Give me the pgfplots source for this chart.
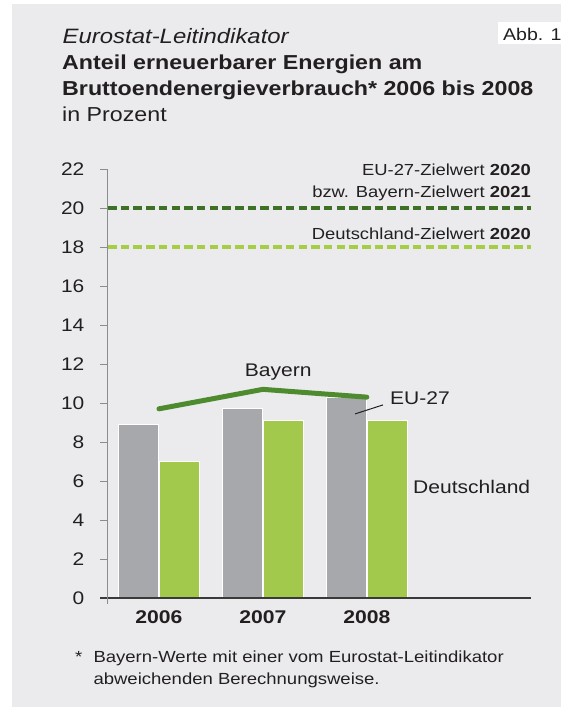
\documentclass[border=0pt]{standalone}
\usepackage{pgfplots}
\pgfplotsset{compat=1.18}
\usepackage{fontspec}
\setmainfont[FakeStretch=1.15]{Liberation Sans}
\definecolor{panelbg}{HTML}{EBEBED}
\definecolor{barGray}{HTML}{A7A8AB}
\definecolor{barGreen}{HTML}{A3C94C}
\definecolor{bayern}{HTML}{4E8B2E}
\definecolor{darkDash}{HTML}{3E7126}
\definecolor{lightDash}{HTML}{A5CD45}
\definecolor{txt}{HTML}{231F20}
\definecolor{yaxis}{HTML}{8C8C8C}
\definecolor{xaxis}{HTML}{3A3A3A}
\begin{document}
\begin{tikzpicture}[x=1pt,y=1pt]
\path[use as bounding box] (0,0) rectangle (561,707);
\fill[white] (0,0) rectangle (561,707);
\fill[panelbg] (12,0) rectangle (561,703);
\fill[white] (498,663) rectangle (561,685);
\node[anchor=base west, inner sep=0pt, text=txt, font=\fontsize{17}{20}\selectfont] at (503,666.3) {Abb. 1};
\node[anchor=base west, inner sep=0pt, text=txt, font=\fontsize{20.8}{24}\selectfont\itshape] at (62.5,663) {Eurostat-Leitindikator};
\node[anchor=base west, inner sep=0pt, text=txt, font=\fontsize{20.2}{24}\selectfont\bfseries] at (62,637) {Anteil erneuerbarer Energien am};
\node[anchor=base west, inner sep=0pt, text=txt, font=\fontsize{20.2}{24}\selectfont\bfseries] at (62,611) {Bruttoendenergieverbrauch* 2006 bis 2008};
\node[anchor=base west, inner sep=0pt, text=txt, font=\fontsize{20.2}{24}\selectfont] at (62,585) {in Prozent};
\begin{axis}[
  at={(107pt,109pt)}, anchor=south west,
  scale only axis, width=424pt, height=429pt,
  xmin=-0.5, xmax=3.58, ymin=0, ymax=22,
  clip=false,
  axis on top,
  axis x line*=bottom, axis y line*=left,
  axis line style={-},
  x axis line style={draw=xaxis, line width=1.3pt, shorten <=-7pt},
  y axis line style={draw=yaxis, line width=0.8pt, shorten <=-6pt},
  ytick={0,2,...,22},
  ytick align=outside,
  major tick length=6.5pt,
  ytick style={draw=yaxis, line width=0.8pt},
  xtick={0,1,2},
  xticklabels={2006,2007,2008},
  xtick style={draw=none},
  /pgf/number format/assume math mode=true,
  yticklabel style={anchor=east, inner sep=0pt, xshift=-16pt, text=txt, font=\fontsize{18.2}{20}\selectfont},
  xticklabel style={anchor=base, inner sep=0pt, yshift=-25.3pt, text=txt, font=\fontsize{18.4}{20}\selectfont\bfseries},
]
\addplot[ybar, bar width=40pt, bar shift=-20.5pt, fill=barGray, draw=white, line width=0.8pt]
  coordinates {(0,8.9) (1,9.7) (2,10.3)};
\addplot[ybar, bar width=40pt, bar shift=20.5pt, fill=barGreen, draw=white, line width=0.8pt]
  coordinates {(0,7.0) (1,9.1) (2,9.1)};
\addplot[draw=darkDash, line width=3.5pt, dash pattern=on 8.5pt off 4.2pt]
  coordinates {(-0.49,20) (3.58,20)};
\addplot[draw=lightDash, line width=3.5pt, dash pattern=on 8.5pt off 4.2pt]
  coordinates {(-0.49,18) (3.58,18)};
\addplot[draw=bayern, line width=5pt, line cap=round, line join=round]
  coordinates {(0,9.7) (1,10.7) (2,10.3)};
\draw[txt, line width=1pt] (axis cs:1.887,9.44) -- (axis cs:2.155,9.9);
\end{axis}
\node[anchor=base east, inner sep=0pt, text=txt, font=\fontsize{16}{19}\selectfont] at (531,531) {EU-27-Zielwert \textbf{2020}};
\node[anchor=base east, inner sep=0pt, text=txt, font=\fontsize{16}{19}\selectfont] at (531,509.3) {bzw. Bayern-Zielwert \textbf{2021}};
\node[anchor=base east, inner sep=0pt, text=txt, font=\fontsize{16}{19}\selectfont] at (531,467.7) {Deutschland-Zielwert \textbf{2020}};
\node[anchor=base, inner sep=0pt, text=txt, font=\fontsize{18.3}{20}\selectfont] at (278.3,330.3) {Bayern};
\node[anchor=base west, inner sep=0pt, text=txt, font=\fontsize{18.3}{20}\selectfont] at (390,302) {EU-27};
\node[anchor=base west, inner sep=0pt, text=txt, font=\fontsize{18.3}{20}\selectfont] at (413,213) {Deutschland};
\node[anchor=base west, inner sep=0pt, text=txt, font=\fontsize{16.1}{19}\selectfont] at (75,44.3) {*};
\node[anchor=base west, inner sep=0pt, text=txt, font=\fontsize{16.1}{19}\selectfont] at (93.3,44.3) {Bayern-Werte mit einer vom Eurostat-Leitindikator};
\node[anchor=base west, inner sep=0pt, text=txt, font=\fontsize{16.1}{19}\selectfont] at (93.3,22) {abweichenden Berechnungsweise.};
\end{tikzpicture}
\end{document}
